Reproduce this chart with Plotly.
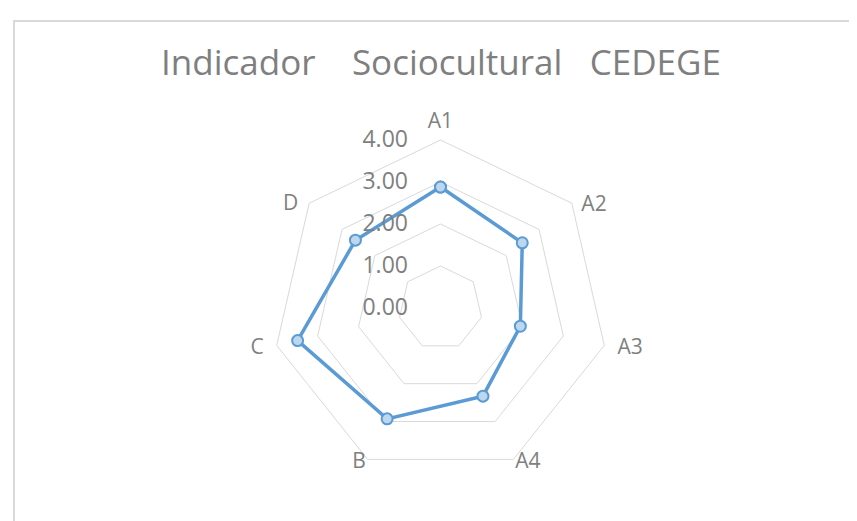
import plotly.graph_objects as go

categories = ["A1", "A2", "A3", "A4", "B", "C", "D"]
values = [2.88, 2.49, 1.95, 2.33, 2.93, 3.49, 2.59]
tick_vals = [0, 1, 2, 3, 4]
tick_text = ["0.00", "1.00", "2.00", "3.00", "4.00"]
title_text = "Indicador    Sociocultural   CEDEGE"

# label placement (styling only): radius in axis units and text side
label_r = [4.15, 4.29, 4.32, 4.1, 4.1, 4.32, 4.33]
label_pos = ["top center", "bottom right", "middle right", "middle right",
             "middle left", "middle left", "bottom left"]

W, H = 857, 521
RMAX = 4.4
cx, cy = 432.5, 300
R = 168 * RMAX / 4

theta = categories + categories[:1]
r = values + values[:1]

fig = go.Figure()
fig.add_trace(go.Scatterpolar(
    r=r, theta=theta, mode="lines+markers",
    line=dict(color="#5B9BD5", width=3.5),
    marker=dict(size=11, color="#BDD7EE", line=dict(color="#5B9BD5", width=2)),
    showlegend=False, hoverinfo="skip"
))
fig.add_trace(go.Scatterpolar(
    r=label_r, theta=categories, mode="text", text=categories,
    textposition=label_pos, textfont=dict(size=21, color="#7F7F7F", family="Open Sans"),
    cliponaxis=False, showlegend=False, hoverinfo="skip"
))

grid = "#D9D9D9"
txt = "#7F7F7F"
fig.update_layout(
    width=W, height=H,
    margin=dict(l=0, r=0, t=0, b=0),
    paper_bgcolor="white",
    font=dict(family="Open Sans", color=txt),
    title=dict(text=title_text, x=433 / W, xanchor="center", xref="container",
               y=(H - 55) / H, yanchor="middle", yref="container",
               font=dict(size=35, color="#7F7F7F", family="Open Sans")),
    polar=dict(
        domain=dict(x=[(cx - R) / W, (cx + R) / W], y=[(H - cy - R) / H, (H - cy + R) / H]),
        bgcolor="rgba(0,0,0,0)",
        gridshape="linear",
        angularaxis=dict(direction="clockwise", rotation=90, showgrid=False,
                         showline=False, ticks="", showticklabels=False),
        radialaxis=dict(range=[0, RMAX], tickvals=tick_vals, ticktext=tick_text,
                        angle=90, tickangle=90, side="counterclockwise",
                        showline=False, showgrid=True, gridcolor=grid, gridwidth=1,
                        ticks="outside", ticklen=24, tickcolor="rgba(0,0,0,0)",
                        tickfont=dict(size=23, color=txt)),
    ),
    shapes=[dict(type="rect", xref="paper", yref="paper",
                 x0=6 / W, x1=1.02, y0=-0.02, y1=(H - 13) / H,
                 line=dict(color="#D9D9D9", width=2), fillcolor="rgba(0,0,0,0)", layer="below")],
)

fig.write_html("out.html")
